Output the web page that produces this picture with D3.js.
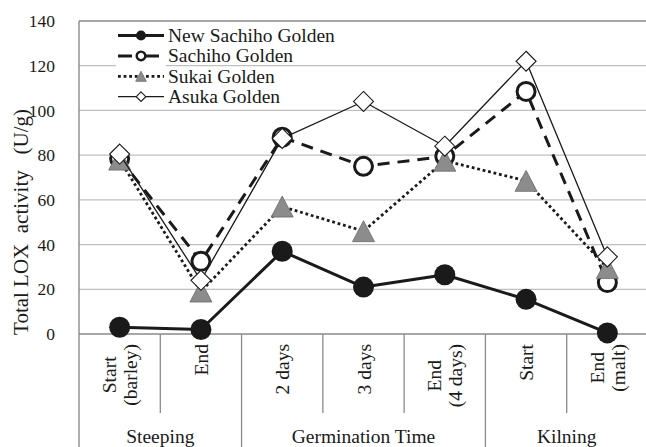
<!DOCTYPE html>
<html><head><meta charset="utf-8">
<script src="https://cdn.jsdelivr.net/npm/d3@7"></script>
<style>
body{margin:0;background:#fff}
svg{display:block}
text{font-family:"Liberation Serif","Times New Roman",serif;fill:#1a1a1a}
</style>
</head><body>
<svg id="c" width="646" height="447"></svg>
<script>
const categories = ["Start\n(barley)","End","2 days","3 days","End\n(4 days)","Start","End\n(malt)"];
const groupNames = ["Steeping","Germination Time","Kilning"];
const groupSizes = [2,3,2];
const yTicks = [0,20,40,60,80,100,120,140];
const seriesNames = ["New Sachiho Golden","Sachiho Golden","Sukai Golden","Asuka Golden"];
const newSachiho = [3,2,37,21,26.5,15.5,0.5];
const sachiho = [78.5,32.5,88,75,79.5,108.5,23];
const sukai = [78,19,57,46,77.5,68.5,29.5];
const asuka = [80.5,24,87.5,104,84,122,34.5];
const yTitle = "Total LOX  activity   (U/g)";

const FONT = '"Liberation Serif","Times New Roman",serif';
const svg = d3.select("#c");
const x = d3.scaleBand().domain(d3.range(categories.length)).range([79,648]).padding(0);
const xc = i => x(i) + x.bandwidth()/2;
const y = d3.scaleLinear().domain([0,140]).range([334,21]);

// gridlines
svg.append("g").selectAll("line").data(yTicks.filter(t=>t>0&&t<140)).join("line")
  .attr("x1",79).attr("x2",646).attr("y1",d=>y(d)).attr("y2",d=>y(d))
  .attr("stroke","#c0c0c0").attr("stroke-width",1.3);
// top border & bottom axis
[140,0].forEach(t=>svg.append("line").attr("x1",79).attr("x2",646).attr("y1",y(t)).attr("y2",y(t))
  .attr("stroke","#8a8a8a").attr("stroke-width",1.4));
// left axis line extending to bottom
svg.append("line").attr("x1",79).attr("x2",79).attr("y1",y(140)).attr("y2",447)
  .attr("stroke","#8a8a8a").attr("stroke-width",1.4);

// y tick labels
const yAxis = d3.axisLeft(y).tickValues(yTicks).tickSize(0).tickPadding(24);
const ya = svg.append("g").attr("transform","translate(79,0)").call(yAxis)
  .attr("font-family",FONT).attr("font-size",17.5);
ya.select(".domain").remove();
ya.selectAll("text").style("font-family",FONT).style("font-size","17.5px").attr("fill","#1a1a1a");

// category separators
let bounds = []; let acc=0; groupSizes.forEach(s=>{acc+=s; bounds.push(acc);});
for (let i=1;i<categories.length;i++){
  const isGroup = bounds.includes(i);
  svg.append("line").attr("x1",x(i)).attr("x2",x(i)).attr("y1",y(0)).attr("y2",isGroup?447:413)
    .attr("stroke","#8a8a8a").attr("stroke-width",1.3);
}

// category labels
categories.forEach((c,i)=>{
  const lines = c.split("\n");
  const g = svg.append("g").attr("transform",`translate(${xc(i)},344) rotate(-90)`);
  const ts = lines.map((l,k)=>g.append("text").text(l).style("font-size","19.5px")
     .attr("text-anchor","middle").attr("y",(k-(lines.length-1)/2)*21+7));
  const maxLen = d3.max(ts.map(t=>t.node().getComputedTextLength()));
  ts.forEach(t=>t.attr("x",-maxLen/2));
});

// group labels
acc=0;
groupNames.forEach((g,k)=>{
  const x0 = x(acc), x1 = acc+groupSizes[k] < categories.length ? x(acc+groupSizes[k]) : x.range()[1];
  svg.append("text").text(g).attr("x",(x0+x1)/2).attr("y",443).attr("text-anchor","middle").style("font-size","19.5px");
  acc+=groupSizes[k];
});

// y title
svg.append("text").text(yTitle).attr("transform","translate(28,222) rotate(-90)")
  .attr("text-anchor","middle").style("font-size","21px").style("white-space","pre");

// series
const styles = [
  {w:3, dash:null, legDash:null, marker:"fcircle"},
  {w:3, dash:"12,8", legDash:"14,13", marker:"ocircle"},
  {w:2.8, dash:"2.8,2.8", legDash:"2.8,2.8", marker:"triangle"},
  {w:1.3, dash:null, legDash:null, marker:"diamond"}
];
const allSeries = [newSachiho, sachiho, sukai, asuka];

function drawMarker(g, type, s){
  if(type==="fcircle") g.append("circle").attr("r",10.5*s).attr("fill","#1a1a1a");
  else if(type==="ocircle") g.append("circle").attr("r",9*s).attr("fill","#fff").attr("stroke","#1a1a1a").attr("stroke-width",3*Math.max(s,0.8));
  else if(type==="triangle") g.append("path").attr("d",`M0,${-10.5*s}L${11*s},${10.5*s}L${-11*s},${10.5*s}Z`).attr("fill","#8c8c8c").attr("stroke","#6a6a6a").attr("stroke-width",0.8);
  else if(type==="diamond") g.append("path").attr("d",`M0,${-10*s}L${10*s},0L0,${10*s}L${-10*s},0Z`).attr("fill","#fff").attr("stroke","#1a1a1a").attr("stroke-width",1.1);
}

const line = d3.line().x((d,i)=>xc(i)).y(d=>y(d));
allSeries.forEach((data,k)=>{
  const st = styles[k];
  const g = svg.append("g");
  g.append("path").attr("d",line(data)).attr("fill","none").attr("stroke","#1a1a1a")
    .attr("stroke-width",st.w).attr("stroke-dasharray",st.dash).attr("stroke-linejoin","round");
  data.forEach((v,i)=>{
    drawMarker(g.append("g").attr("transform",`translate(${xc(i)},${y(v)})`), st.marker, 1);
  });
});

// legend
svg.append("rect").attr("x",116).attr("y",26).attr("width",50).attr("height",80).attr("fill","#fff");
seriesNames.forEach((n,k)=>{
  const st = styles[k];
  const ly = 35.5 + k*20.4;
  svg.append("line").attr("x1",118).attr("x2",164).attr("y1",ly).attr("y2",ly)
    .attr("stroke","#1a1a1a").attr("stroke-width",st.w).attr("stroke-dasharray",st.legDash);
  drawMarker(svg.append("g").attr("transform",`translate(141,${ly})`), st.marker, 0.48);
  svg.append("text").text(n).attr("x",168).attr("y",ly+6.5).style("font-size","19.5px");
});
</script>
</body></html>
